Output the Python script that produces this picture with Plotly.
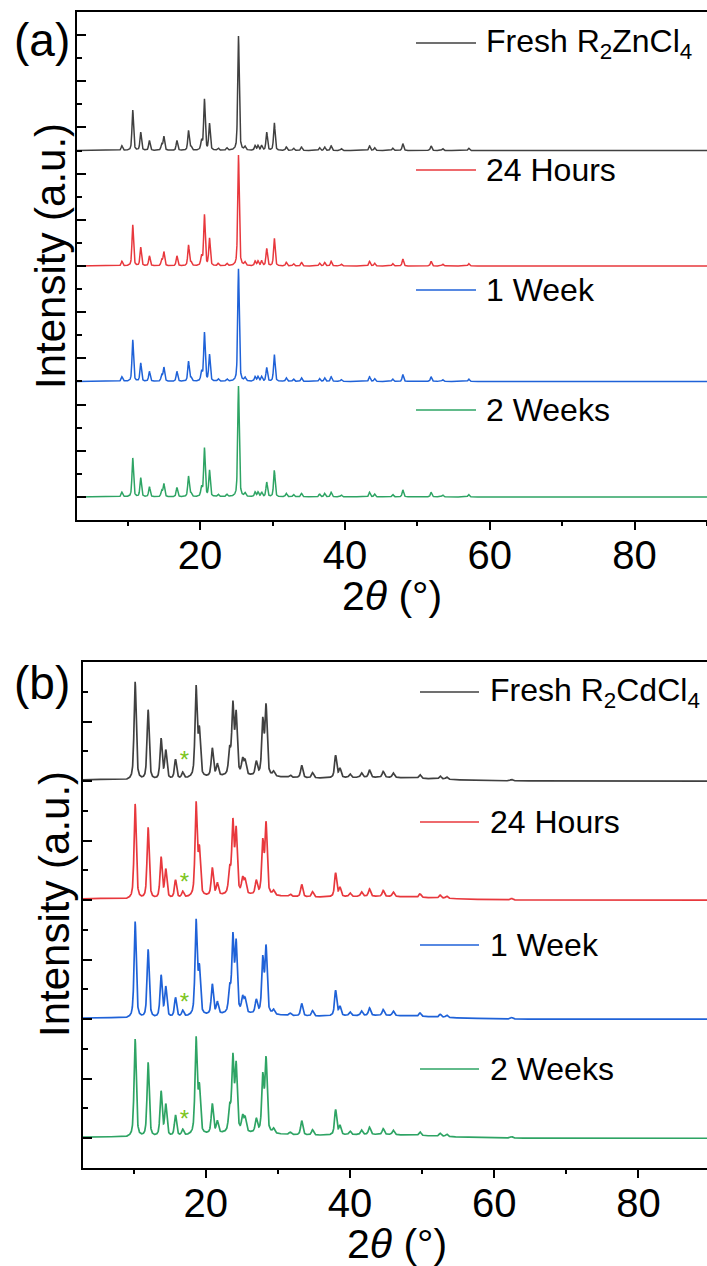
import numpy as np
import plotly.graph_objects as go

W, H = 707, 1266

# ---------------- data ----------------
SERIES = ["Fresh", "24 Hours", "1 Week", "2 Weeks"]
COLORS = ["#404040", "#e8383d", "#1f62d8", "#2ea464"]

# Panel (a): R2ZnCl4 peak list (2theta, deg) and apex heights (tick units)
ZN_POS = [9.2, 10.7, 11.8, 13.0, 14.7, 15.0, 16.8, 18.4, 18.75, 20.2, 20.6, 21.3, 22.5, 23.7,
          25.3, 26.2, 27.6, 28.0, 28.5, 29.2, 30.25, 31.9, 32.9, 34.0, 36.5, 37.2, 38.1,
          39.5, 43.4, 44.1, 46.6, 48.0, 51.9, 53.5, 57.1]
ZN_FRESH = [0.2, 1.75, 0.78, 0.43, 0.25, 0.6, 0.43, 0.86, 0.15, 0.4, 2.2, 1.15, 0.1, 0.1,
            4.95, 0.15, 0.2, 0.2, 0.2, 0.78, 1.2, 0.15, 0.1, 0.15, 0.12, 0.15, 0.2,
            0.08, 0.2, 0.12, 0.1, 0.3, 0.2, 0.08, 0.1]
ZN_24H = [0.2, 1.78, 0.8, 0.43, 0.25, 0.6, 0.43, 0.9, 0.15, 0.4, 2.2, 1.18, 0.1, 0.1,
          4.8, 0.15, 0.2, 0.2, 0.2, 0.75, 1.2, 0.15, 0.1, 0.15, 0.12, 0.15, 0.2,
          0.08, 0.2, 0.12, 0.1, 0.3, 0.2, 0.08, 0.1]
ZN_1W = [0.2, 1.8, 0.79, 0.43, 0.25, 0.6, 0.43, 0.86, 0.15, 0.4, 2.1, 1.15, 0.1, 0.1,
         4.87, 0.15, 0.2, 0.2, 0.2, 0.59, 1.16, 0.15, 0.1, 0.15, 0.12, 0.15, 0.2,
         0.08, 0.2, 0.12, 0.1, 0.3, 0.2, 0.08, 0.1]
ZN_2W = [0.2, 1.68, 0.82, 0.43, 0.25, 0.56, 0.4, 0.89, 0.15, 0.4, 2.1, 1.13, 0.1, 0.1,
         4.8, 0.15, 0.2, 0.2, 0.2, 0.63, 1.15, 0.15, 0.1, 0.15, 0.12, 0.15, 0.2,
         0.08, 0.2, 0.12, 0.1, 0.3, 0.2, 0.08, 0.1]
ZN_OFFSETS = [15, 10, 5, 0]

# Panel (b): R2CdCl4 peak list and apex heights
CD_POS = [10.2, 12.0, 13.8, 14.45, 15.8, 16.8, 18.65, 19.1, 20.9, 21.6, 23.3, 23.75, 24.2,
          25.1, 25.45, 27.0, 27.9, 28.35, 29.4, 31.7, 33.3, 34.8, 38.0, 38.6, 40.0,
          41.6, 42.7, 44.6, 46.0, 49.7, 52.5, 53.4, 62.4]
CD_FRESH = [3.3, 2.35, 1.35, 0.95, 0.65, 0.2, 3.0, 1.5, 0.95, 0.4, 0.8, 2.3, 2.0,
            0.5, 0.45, 0.45, 1.8, 2.3, 0.15, 0.08, 0.42, 0.18, 0.75, 0.3, 0.12,
            0.15, 0.25, 0.2, 0.15, 0.12, 0.1, 0.08, 0.05]
CD_24H = [3.2, 2.4, 1.37, 0.95, 0.6, 0.2, 3.1, 1.5, 0.93, 0.4, 0.8, 2.35, 2.1,
          0.5, 0.45, 0.45, 1.72, 2.35, 0.15, 0.08, 0.42, 0.18, 0.8, 0.3, 0.12,
          0.15, 0.25, 0.2, 0.15, 0.12, 0.1, 0.08, 0.05]
CD_1W = [3.25, 2.3, 1.4, 1.0, 0.65, 0.2, 3.15, 1.5, 1.02, 0.4, 0.8, 2.5, 2.3,
         0.5, 0.45, 0.45, 1.8, 2.2, 0.15, 0.08, 0.42, 0.18, 0.85, 0.3, 0.12,
         0.15, 0.25, 0.2, 0.15, 0.12, 0.1, 0.08, 0.05]
CD_2W = [3.3, 2.5, 1.5, 1.05, 0.7, 0.2, 3.2, 1.5, 1.0, 0.4, 0.8, 2.45, 2.2,
         0.5, 0.45, 0.45, 1.85, 2.45, 0.15, 0.08, 0.48, 0.18, 0.85, 0.3, 0.12,
         0.15, 0.25, 0.2, 0.15, 0.12, 0.1, 0.08, 0.05]
CD_OFFSETS = [12, 8, 4, 0]
# broad background humps of the Cd patterns (centre, height, width)
CD_BG_POS = [5.0, 25.0, 44.0]
CD_BG_H = [0.05, 0.15, 0.12]
CD_BG_W = [6.0, 14.0, 18.0]

# impurity marks (*) of panel (b)
STAR_X = [17.05, 17.05, 17.05, 17.05]
STAR_DY = [0.65, 0.55, 0.5, 0.58]

ZN_LABELS = ["Fresh R<sub>2</sub>ZnCl<sub>4</sub>", "24 Hours", "1 Week", "2 Weeks"]
CD_LABELS = ["Fresh R<sub>2</sub>CdCl<sub>4</sub>", "24 Hours", "1 Week", "2 Weeks"]

# ---------------- profile synthesis ----------------
x = np.arange(2.9, 90.001, 0.02)


def pattern(pos, hts, fwhm, eta):
    y = np.zeros_like(x)
    for p, h in zip(pos, hts):
        d = (x - p) / (fwhm / 2.0)
        y += h * (eta / (1 + d ** 2) + (1 - eta) * np.exp(-np.log(2) * d ** 2))
    return y


def background():
    y = np.zeros_like(x)
    for p, h, w in zip(CD_BG_POS, CD_BG_H, CD_BG_W):
        y += h * np.exp(-4 * np.log(2) * ((x - p) / w) ** 2)
    return y


FONT = "Arial, Liberation Sans, Helvetica, sans-serif"
fig = go.Figure()

for name, hts, off, col in zip(SERIES, [ZN_FRESH, ZN_24H, ZN_1W, ZN_2W], ZN_OFFSETS, COLORS):
    fig.add_trace(go.Scatter(x=x, y=pattern(ZN_POS, hts, 0.25, 0.5) + off, mode="lines",
                             line=dict(color=col, width=1.5), name=name, showlegend=False,
                             xaxis="x", yaxis="y"))

bg = background()
for name, hts, off, col in zip(SERIES, [CD_FRESH, CD_24H, CD_1W, CD_2W], CD_OFFSETS, COLORS):
    fig.add_trace(go.Scatter(x=x, y=pattern(CD_POS, hts, 0.35, 0.6) + bg + off, mode="lines",
                             line=dict(color=col, width=1.7), name=name, showlegend=False,
                             xaxis="x2", yaxis="y2"))

fig.add_trace(go.Scatter(x=STAR_X, y=[o + d for o, d in zip(CD_OFFSETS, STAR_DY)],
                         mode="text", text=["*"] * 4,
                         textfont=dict(family=FONT, size=24, color="#7cc520"),
                         textposition="middle center", showlegend=False,
                         xaxis="x2", yaxis="y2", hoverinfo="skip"))


def px(xp):
    return xp / W


def py(yp):
    return 1 - yp / H


axis_common = dict(showline=True, linecolor="black", linewidth=2, showgrid=False,
                   zeroline=False, automargin=False)
xcommon = dict(axis_common, mirror=True, ticks="outside", ticklen=8, tickwidth=2,
               tickcolor="black", dtick=20, tick0=0,
               minor=dict(dtick=10, tick0=0, ticks="outside", ticklen=4, tickwidth=2,
                          tickcolor="black"),
               tickfont=dict(family=FONT, size=40, color="black"), ticklabelstandoff=-9)
ycommon = dict(axis_common, mirror=False, ticks="inside", ticklen=9, tickwidth=2,
               tickcolor="black", dtick=2, tick0=0, showticklabels=False,
               minor=dict(dtick=1, tick0=0, ticks="inside", ticklen=5, tickwidth=2,
                          tickcolor="black"))

fig.update_layout(
    width=W, height=H, autosize=False,
    margin=dict(l=0, r=0, t=0, b=0, pad=0),
    paper_bgcolor="white", plot_bgcolor="white",
    font=dict(family=FONT, color="black"),
    xaxis=dict(xcommon, domain=[px(77), 1], range=[3, 90], anchor="y"),
    yaxis=dict(ycommon, domain=[py(520), py(12)], range=[-1, 21], anchor="x"),
    xaxis2=dict(xcommon, domain=[px(82.5), 1], range=[2.9, 89.5], anchor="y2"),
    yaxis2=dict(ycommon, domain=[py(1168), py(662)], range=[-1, 16], anchor="x2"),
)

ann = []
shapes = []


def text(xp, yp, s, size, xanchor="center", yanchor="middle", **kw):
    ann.append(dict(x=px(xp), y=py(yp), xref="paper", yref="paper", text=s, showarrow=False,
                    xanchor=xanchor, yanchor=yanchor,
                    font=dict(family=FONT, size=size, color="black"), **kw))


# panel labels
text(42, 40, "(a)", 46)
text(42, 683, "(b)", 46)
# axis titles
text(392, 596, "2<i>θ</i> (°)", 41)
text(397, 1244, "2<i>θ</i> (°)", 41)
text(51, 256, "Intensity (a.u.)", 42, textangle=-90)
text(54, 904, "Intensity (a.u.)", 42, textangle=-90)

# legends placed beside each pattern
for lab, col, yl in zip(ZN_LABELS, COLORS, [43, 170, 290, 410]):
    shapes.append(dict(type="line", xref="paper", yref="paper", x0=px(416), x1=px(476),
                       y0=py(yl), y1=py(yl), line=dict(color=col, width=1.5)))
    text(484, yl, lab, 32, xanchor="left")
for lab, col, yl in zip(CD_LABELS, COLORS, [692, 822, 945, 1069]):
    shapes.append(dict(type="line", xref="paper", yref="paper", x0=px(420), x1=px(479),
                       y0=py(yl), y1=py(yl), line=dict(color=col, width=1.5)))
    text(488, yl, lab, 32, xanchor="left")

fig.update_layout(annotations=ann, shapes=shapes)
fig.write_html("out.html", config={"displayModeBar": False},
               post_script="document.body.style.margin='0';"
                           "document.body.style.overflow='hidden';")
